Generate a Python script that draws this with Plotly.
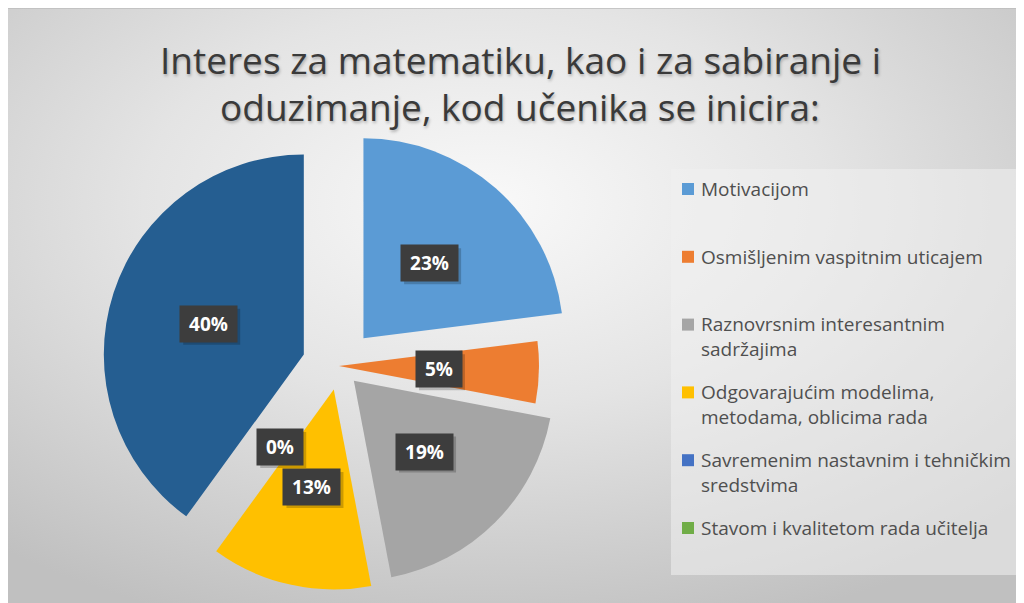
import base64
import math
import plotly.graph_objects as go

# ---------------- data ----------------
title_text = "Interes za matematiku, kao i za sabiranje i<br>oduzimanje, kod učenika se inicira:"
labels = [
    "Motivacijom",
    "Osmišljenim vaspitnim uticajem",
    "Raznovrsnim interesantnim sadržajima",
    "Odgovarajućim modelima, metodama, oblicima rada",
    "Savremenim nastavnim i tehničkim sredstvima",
    "Stavom i kvalitetom rada učitelja",
    "Ostalo",
]
legend_labels = [
    "Motivacijom",
    "Osmišljenim vaspitnim uticajem",
    "Raznovrsnim interesantnim<br>sadržajima",
    "Odgovarajućim modelima,<br>metodama, oblicima rada",
    "Savremenim nastavnim i tehničkim<br>sredstvima",
    "Stavom i kvalitetom rada učitelja",
]
values = [23, 5, 19, 13, 0, 0, 40]

# ---------------- style ----------------
colors = ["#5B9BD5", "#ED7D31", "#A5A5A5", "#FFC000", "#4472C4", "#70AD47", "#255E91"]
pulls = [0.185, 0, 0.105, 0.12, 0, 0, 0.185]

# page is 1024x603; the browser body margin puts the figure at (8, 8)
OFF = 8
FW, FH = 1024 - OFF, 603 - OFF
FONT = "Open Sans"


def fx(X):
    return (X - OFF) / FW


def fy(Y):
    return 1 - (Y - OFF) / FH


# pie box (page pixels)
pie_cx = 339
pie_bottom = 603
box_half = 237
cy = pie_bottom - box_half
dom_x = [fx(pie_cx - 240), fx(pie_cx + 240)]
dom_y = [0, 2 * box_half / FH]
r = box_half / (1 + max(pulls))

fig = go.Figure()
fig.add_trace(go.Pie(
    labels=labels,
    values=values,
    sort=False,
    direction="clockwise",
    rotation=0,
    pull=pulls,
    marker=dict(colors=colors, line=dict(width=0)),
    textinfo="none",
    showlegend=False,
    domain=dict(x=dom_x, y=dom_y),
    hovertemplate="%{label}: %{value}%<extra></extra>",
))

annotations = []
shapes = []

# data labels (dark boxes) at half radius along each slice bisector
total = sum(values)
cum = 0
seen = set()
for v, p in zip(values, pulls):
    mid = (cum + v / 2) / total
    cum += v
    th = 2 * math.pi * mid
    dx, dy = math.sin(th), -math.cos(th)
    dist = (p + 0.5) * r
    x = pie_cx + dist * dx
    y = cy + dist * dy
    key = (round(x), round(y))
    if key in seen:
        continue
    seen.add(key)
    txt = f"{v}%"
    bw = 12 + 11 * len(txt)
    ow, oh = bw + 12, 36
    shapes.append(dict(type="rect", xref="paper", yref="paper",
                       x0=fx(x - ow / 2 + 3), x1=fx(x + ow / 2 + 3),
                       y0=fy(y + oh / 2 + 3), y1=fy(y - oh / 2 + 3),
                       fillcolor="rgba(0,0,0,0.2)", line=dict(width=0)))
    annotations.append(dict(
        x=fx(x), y=fy(y), xref="paper", yref="paper", showarrow=False,
        xanchor="center", yanchor="middle",
        text=f"<b>{txt}</b>", font=dict(family=FONT, size=19, color="white"),
        bgcolor="#3d3d3d", borderpad=6, width=bw, height=24,
    ))

# title
for i, line in enumerate(title_text.split("<br>")):
    annotations.append(dict(
        x=fx(520), y=fy(59 + 48 * i), xref="paper", yref="paper", showarrow=False,
        xanchor="center", yanchor="middle", text=line,
        font=dict(family=FONT, size=37, color="#3a3a3a",
                  shadow="1px 2px 3px rgba(0,0,0,0.25)"),
    ))

# legend box
shapes.append(dict(type="rect", xref="paper", yref="paper",
                   x0=fx(671), x1=fx(1019), y0=fy(575), y1=fy(169),
                   fillcolor="rgba(240,240,240,0.55)", line=dict(width=0), layer="below"))

# legend entries
LF = 19
line_h = LF * 1.3
for i, (lab, col) in enumerate(zip(legend_labels, colors)):
    y0 = 189 + 67.8 * i
    shapes.append(dict(type="rect", xref="paper", yref="paper",
                       x0=fx(682), x1=fx(694), y0=fy(y0 + 6), y1=fy(y0 - 6),
                       fillcolor=col, line=dict(width=0)))
    n = lab.count("<br>") + 1
    annotations.append(dict(
        x=fx(699), y=fy(y0 + (n - 1) * line_h / 2), xref="paper", yref="paper",
        showarrow=False, xanchor="left", yanchor="middle", align="left",
        text=lab, font=dict(family=FONT, size=LF, color="#4f4f4f"),
    ))

# background gradient of the chart area
svg = (
    '<svg xmlns="http://www.w3.org/2000/svg" width="1018" height="595" '
    'viewBox="0 0 1018 595" preserveAspectRatio="none">'
    '<defs><radialGradient id="g" cx="0.47" cy="0.33" r="0.75">'
    '<stop offset="0" stop-color="#f9f9f9"/>'
    '<stop offset="0.45" stop-color="#e4e4e4"/>'
    '<stop offset="1" stop-color="#c0c0c0"/>'
    '</radialGradient></defs>'
    '<rect width="1018" height="595" fill="url(#g)"/></svg>'
)
src = "data:image/svg+xml;base64," + base64.b64encode(svg.encode()).decode()

fig.update_layout(
    width=FW, height=FH,
    margin=dict(l=0, r=0, t=0, b=0),
    paper_bgcolor="white",
    plot_bgcolor="white",
    annotations=annotations,
    shapes=shapes,
    images=[dict(source=src, xref="paper", yref="paper",
                 x=0, y=1, sizex=1, sizey=1,
                 xanchor="left", yanchor="top", sizing="stretch", layer="below")],
    showlegend=False,
)
fig.add_shape(type="line", xref="paper", yref="paper", x0=0, x1=1,
              y0=1, y1=1, line=dict(color="#bdbdbd", width=1.5))

fig.write_html("out.html")
